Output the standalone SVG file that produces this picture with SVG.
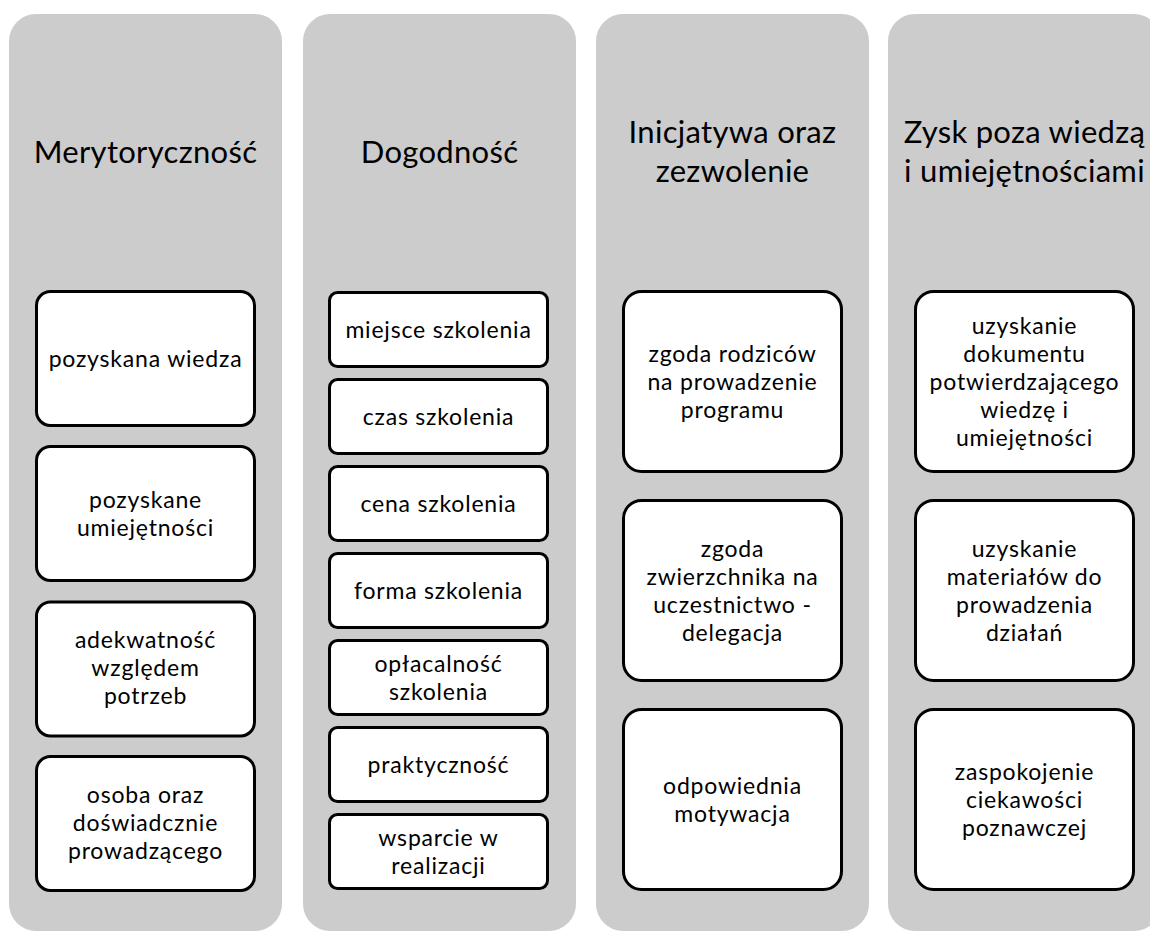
<svg xmlns="http://www.w3.org/2000/svg" width="1150" height="931" viewBox="0 0 1150 931">
<style>
.col{fill:#cccccc;}
.box{fill:#ffffff;stroke:#000000;stroke-width:3;}
.t{font-family:Lato,"Liberation Sans",sans-serif;fill:#000000;text-anchor:middle;}
.h{font-size:31px;letter-spacing:0.3px;}
.b{font-size:23px;letter-spacing:0.8px;}
</style>
<rect width="1150" height="931" fill="#ffffff"/>
<g id="col-merytorycznosc">
<rect class="col" x="9" y="14" width="273" height="917" rx="27"/>
<text class="t h" x="145.5" y="163">Merytoryczność</text>
</g>
<g id="col-dogodnosc">
<rect class="col" x="303" y="14" width="273" height="917" rx="27"/>
<text class="t h" x="439.5" y="163">Dogodność</text>
</g>
<g id="col-inicjatywa">
<rect class="col" x="596" y="14" width="273" height="917" rx="27"/>
<text class="t h" x="732.5" y="143">Inicjatywa oraz</text>
<text class="t h" x="732.5" y="182">zezwolenie</text>
</g>
<g id="col-zysk">
<rect class="col" x="888" y="14" width="273" height="917" rx="27"/>
<text class="t h" x="1024.5" y="143">Zysk poza wiedzą</text>
<text class="t h" x="1024.5" y="182">i umiejętnościami</text>
</g>
<g id="connectors"></g>
<!-- Column 1 -->
<g id="n-pozyskana-wiedza">
<rect class="box" x="36.5" y="291.5" width="218" height="134" rx="14"/>
<text class="t b" x="145.5" y="366.5">pozyskana wiedza</text>
</g>
<g id="n-pozyskane-umiejetnosci">
<rect class="box" x="36.5" y="446.5" width="218" height="134" rx="14"/>
<text class="t b" x="145.5" y="507.5">pozyskane</text>
<text class="t b" x="145.5" y="535.5">umiejętności</text>
</g>
<g id="n-adekwatnosc">
<rect class="box" x="36.5" y="602" width="218" height="134" rx="14"/>
<text class="t b" x="145.5" y="648">adekwatność</text>
<text class="t b" x="145.5" y="676">względem</text>
<text class="t b" x="145.5" y="704">potrzeb</text>
</g>
<g id="n-osoba">
<rect class="box" x="36.5" y="756.5" width="218" height="134" rx="14"/>
<text class="t b" x="145.5" y="803">osoba oraz</text>
<text class="t b" x="145.5" y="831">doświadcznie</text>
<text class="t b" x="145.5" y="859">prowadzącego</text>
</g>
<!-- Column 2 -->
<g id="n-miejsce">
<rect class="box" x="329.5" y="292.5" width="218" height="74" rx="8"/>
<text class="t b" x="438.5" y="337.5">miejsce szkolenia</text>
</g>
<g id="n-czas">
<rect class="box" x="329.5" y="379.5" width="218" height="74" rx="8"/>
<text class="t b" x="438.5" y="424.5">czas szkolenia</text>
</g>
<g id="n-cena">
<rect class="box" x="329.5" y="466.5" width="218" height="74" rx="8"/>
<text class="t b" x="438.5" y="511.5">cena szkolenia</text>
</g>
<g id="n-forma">
<rect class="box" x="329.5" y="553.5" width="218" height="74" rx="8"/>
<text class="t b" x="438.5" y="598.5">forma szkolenia</text>
</g>
<g id="n-oplacalnosc">
<rect class="box" x="329.5" y="640.5" width="218" height="74" rx="8"/>
<text class="t b" x="438.5" y="671.5">opłacalność</text>
<text class="t b" x="438.5" y="699.5">szkolenia</text>
</g>
<g id="n-praktycznosc">
<rect class="box" x="329.5" y="727.5" width="218" height="74" rx="8"/>
<text class="t b" x="438.5" y="772.5">praktyczność</text>
</g>
<g id="n-wsparcie">
<rect class="box" x="329.5" y="814.5" width="218" height="74" rx="8"/>
<text class="t b" x="438.5" y="845.5">wsparcie w</text>
<text class="t b" x="438.5" y="873.5">realizacji</text>
</g>
<!-- Column 3 -->
<g id="n-zgoda-rodzicow">
<rect class="box" x="623.5" y="291.5" width="218" height="180" rx="18"/>
<text class="t b" x="732.5" y="361.5">zgoda rodziców</text>
<text class="t b" x="732.5" y="389.5">na prowadzenie</text>
<text class="t b" x="732.5" y="417.5">programu</text>
</g>
<g id="n-zgoda-zwierzchnika">
<rect class="box" x="623.5" y="500.5" width="218" height="180" rx="18"/>
<text class="t b" x="732.5" y="556.5">zgoda</text>
<text class="t b" x="732.5" y="584.5">zwierzchnika na</text>
<text class="t b" x="732.5" y="612.5">uczestnictwo -</text>
<text class="t b" x="732.5" y="640.5">delegacja</text>
</g>
<g id="n-motywacja">
<rect class="box" x="623.5" y="709.5" width="218" height="180" rx="18"/>
<text class="t b" x="732.5" y="793.5">odpowiednia</text>
<text class="t b" x="732.5" y="821.5">motywacja</text>
</g>
<!-- Column 4 -->
<g id="n-dokument">
<rect class="box" x="915.5" y="291.5" width="218" height="180" rx="18"/>
<text class="t b" x="1024.5" y="333.5">uzyskanie</text>
<text class="t b" x="1024.5" y="361.5">dokumentu</text>
<text class="t b" x="1024.5" y="389.5">potwierdzającego</text>
<text class="t b" x="1024.5" y="417.5">wiedzę i</text>
<text class="t b" x="1024.5" y="445.5">umiejętności</text>
</g>
<g id="n-materialy">
<rect class="box" x="915.5" y="500.5" width="218" height="180" rx="18"/>
<text class="t b" x="1024.5" y="556.5">uzyskanie</text>
<text class="t b" x="1024.5" y="584.5">materiałów do</text>
<text class="t b" x="1024.5" y="612.5">prowadzenia</text>
<text class="t b" x="1024.5" y="640.5">działań</text>
</g>
<g id="n-ciekawosc">
<rect class="box" x="915.5" y="709.5" width="218" height="180" rx="18"/>
<text class="t b" x="1024.5" y="779.5">zaspokojenie</text>
<text class="t b" x="1024.5" y="807.5">ciekawości</text>
<text class="t b" x="1024.5" y="835.5">poznawczej</text>
</g>
</svg>
